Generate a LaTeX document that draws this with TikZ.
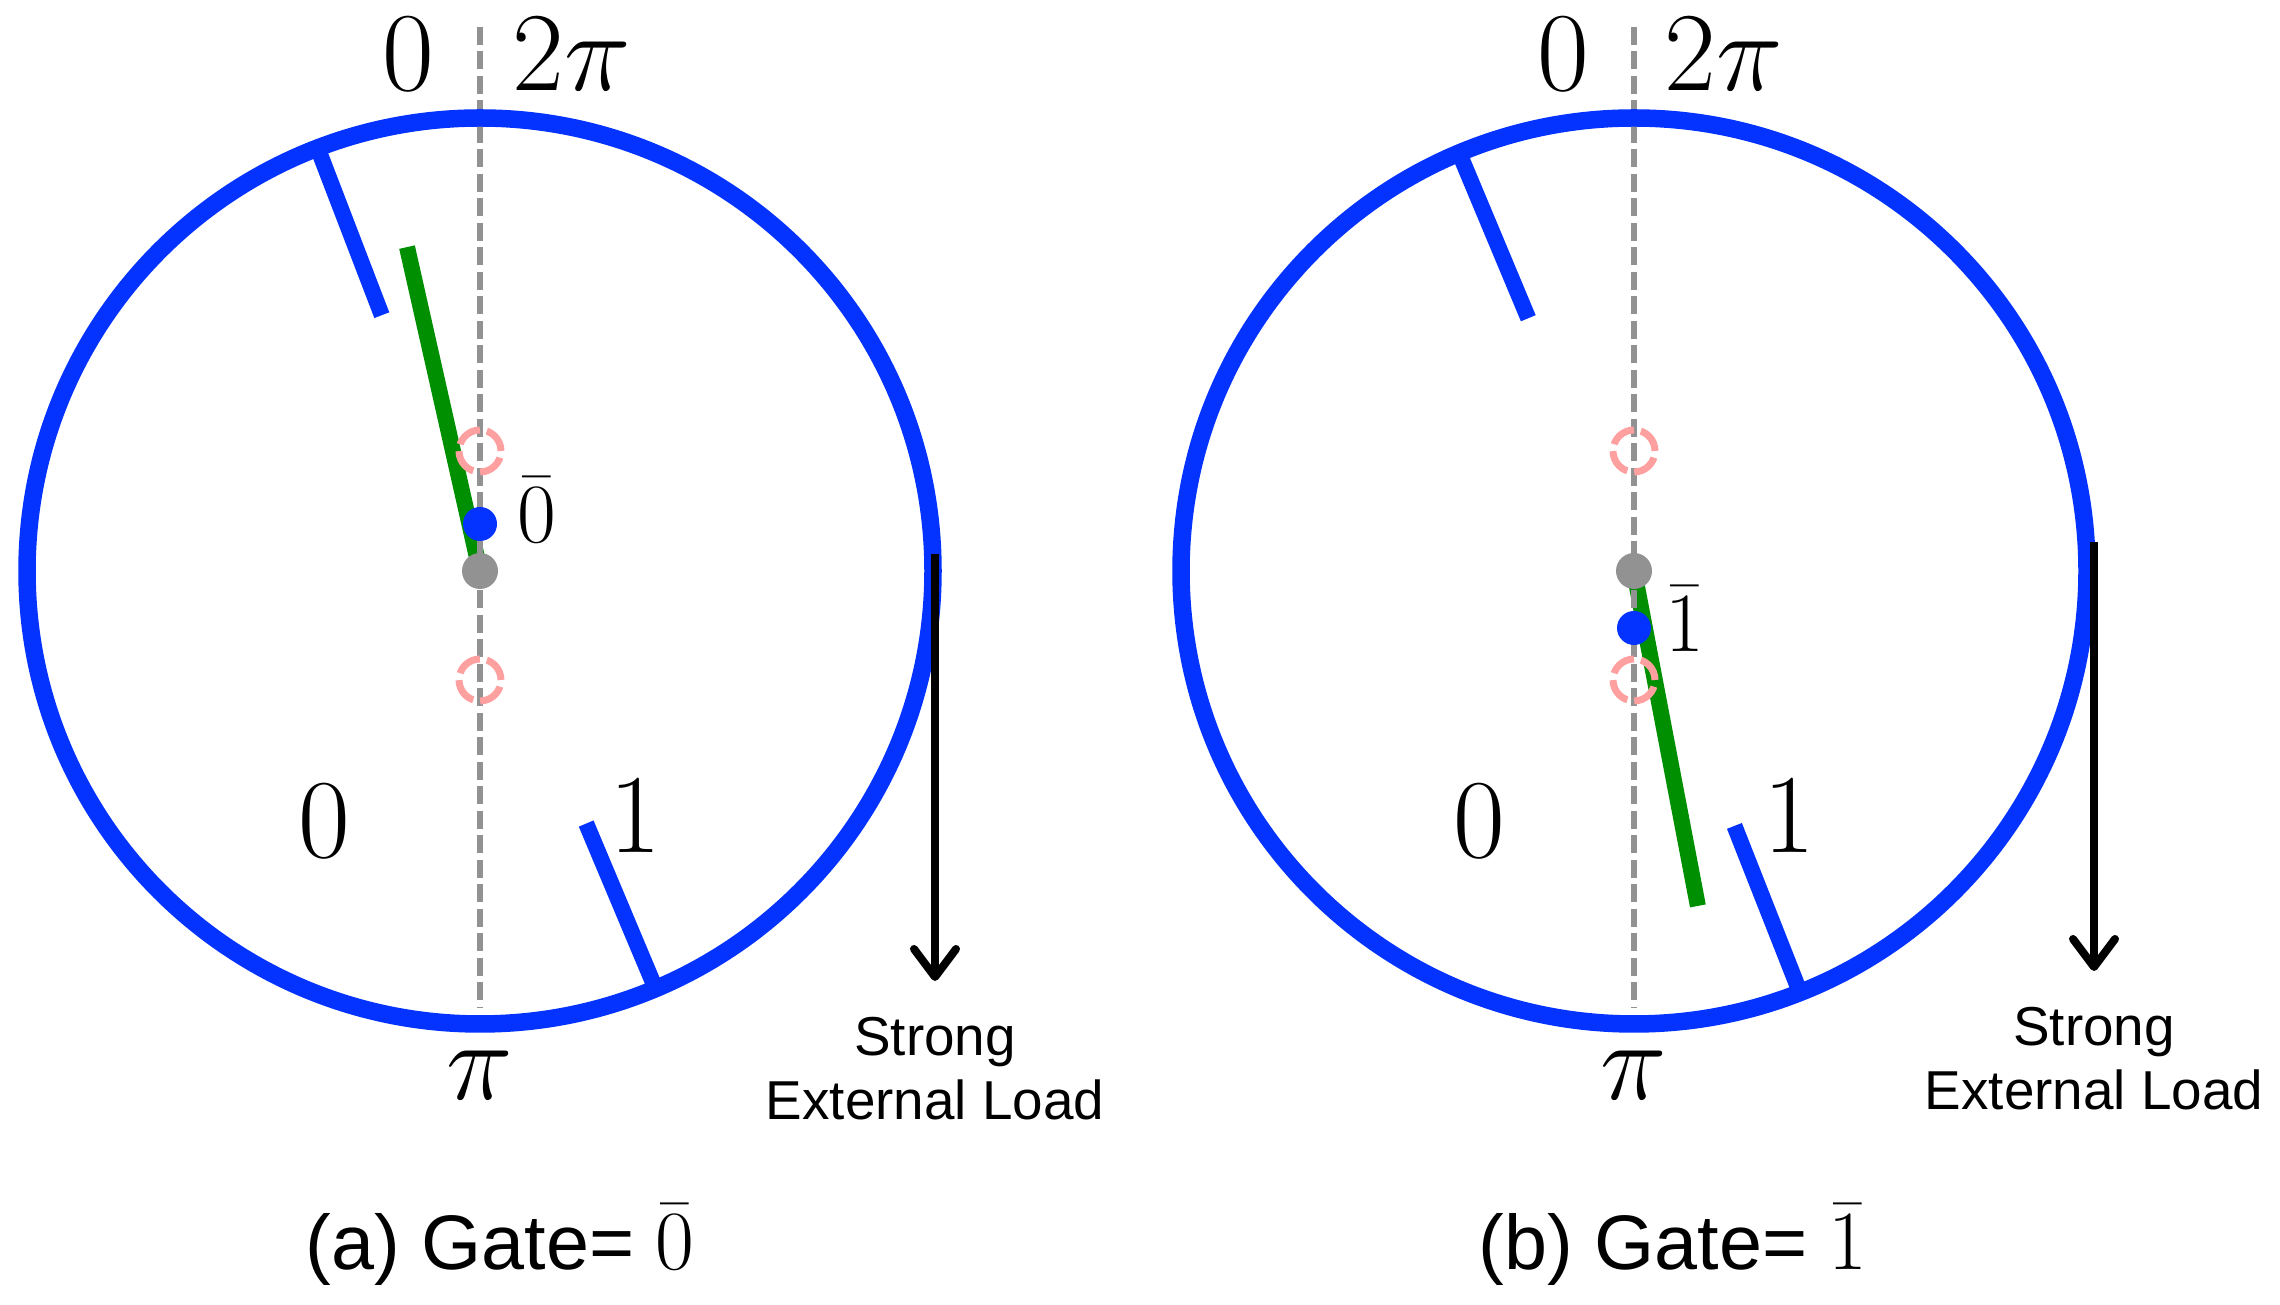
\RequirePackage{fix-cm}
\documentclass[tikz,border=0pt]{standalone}
\usepackage{fontspec}
\setsansfont{Liberation Sans}
\usetikzlibrary{arrows.meta}

\definecolor{wheelblue}{RGB}{4,51,255}
\definecolor{armgreen}{RGB}{0,143,0}
\definecolor{guidegray}{RGB}{146,146,146}
\definecolor{slotpink}{RGB}{255,160,160}

\tikzset{
  rim/.style={wheelblue, line width=0.175cm},
  tooth/.style={wheelblue, line width=0.16cm},
  arm/.style={armgreen, line width=0.16cm},
  guide/.style={guidegray, line width=0.065cm, dash pattern=on 0.18cm off 0.065cm},
  slot/.style={slotpink, line width=0.07cm, dash pattern=on 0.26cm off 0.07cm},
  loadarrow/.style={line width=0.08cm,
    -{Straight Barb[length=0.28cm,width=0.42cm,line cap=round,line join=round]}},
  anglelabel/.style={anchor=base, inner sep=0, font=\fontsize{32}{38}\selectfont},
  barlabel/.style={anchor=base, inner sep=0, font=\fontsize{24}{28}\selectfont},
  loadtext/.style={align=center, anchor=north, inner sep=0, outer sep=0.36cm,
    font=\sffamily\fontsize{15.6}{18.2}\selectfont},
  subcap/.style={anchor=base, inner sep=0, font=\sffamily\fontsize{22}{26}\selectfont}
}

\begin{document}
\begin{tikzpicture}
          \useasboundingbox (0,0) rectangle (22.8,13.05);

          % (a) gate 0
          \begin{scope}[xshift=4.8cm, yshift=7.34cm]
            \draw[arm] (0,0) -- (102.7:3.32);
            \draw[guide] (0,5.44) -- (0,-4.36);
            \draw[rim] (0,0) circle [radius=4.53];
            \draw[tooth] (111:2.74) -- (111:4.53);
            \draw[tooth] (-67.2:2.74) -- (-67.2:4.53);

            \foreach \y in {1.20,-1.09}{
              \draw[slot] (0,\y) circle [radius=0.21];
            }
            \fill[guidegray] (0,0) circle [radius=0.18];
            \fill[wheelblue] (0,0.47) circle [radius=0.17];

            \node[barlabel] (gateA) at (0.57,0.28) {$\bar{0}$};
            \node[anglelabel] (zeroA) at (-0.715,4.80) {$0$};
            \node[anglelabel] (twopiA) at (0.92,4.80) {$2\pi$};
            \node[anglelabel] (piA) at (0,-5.29) {$\pi$};
            \node[anglelabel] (lowA) at (-1.56,-2.87) {$0$};
            \node[anglelabel] (highA) at (1.55,-2.82) {$1$};

            \coordinate (pullA) at (4.55,0.17);
            \node[loadtext] (loadA) at (4.55,-4.10) {Strong\\External Load};
            \draw[loadarrow] (pullA) -- (loadA.north);

            \node[subcap] (capA) at (0.20,-6.99) {(a) Gate= {\fontsize{24}{28}\selectfont$\bar{0}$}};
          \end{scope}

          % (b) gate 1
          \begin{scope}[xshift=16.34cm, yshift=7.34cm]
            \draw[arm] (0,0) -- (-79.2:3.41);
            \draw[guide] (0,5.44) -- (0,-4.36);
            \draw[rim] (0,0) circle [radius=4.53];
            \draw[tooth] (112.7:2.74) -- (112.7:4.53);
            \draw[tooth] (-68.5:2.74) -- (-68.5:4.53);

            \foreach \y in {1.20,-1.09}{
              \draw[slot] (0,\y) circle [radius=0.21];
            }
            \fill[guidegray] (0,0) circle [radius=0.18];
            \fill[wheelblue] (0,-0.57) circle [radius=0.17];

            \node[barlabel] (gateB) at (0.51,-0.81) {$\bar{1}$};
            \node[anglelabel] (zeroB) at (-0.71,4.80) {$0$};
            \node[anglelabel] (twopiB) at (0.90,4.80) {$2\pi$};
            \node[anglelabel] (piB) at (0,-5.29) {$\pi$};
            \node[anglelabel] (lowB) at (-1.55,-2.87) {$0$};
            \node[anglelabel] (highB) at (1.55,-2.82) {$1$};

            \coordinate (pullB) at (4.60,0.29);
            \node[loadtext] (loadB) at (4.60,-4.00) {Strong\\External Load};
            \draw[loadarrow] (pullB) -- (loadB.north);

            \node[subcap] (capB) at (0.39,-6.99) {(b) Gate= {\fontsize{24}{28}\selectfont$\bar{1}$}};
          \end{scope}
\end{tikzpicture}
\end{document}
